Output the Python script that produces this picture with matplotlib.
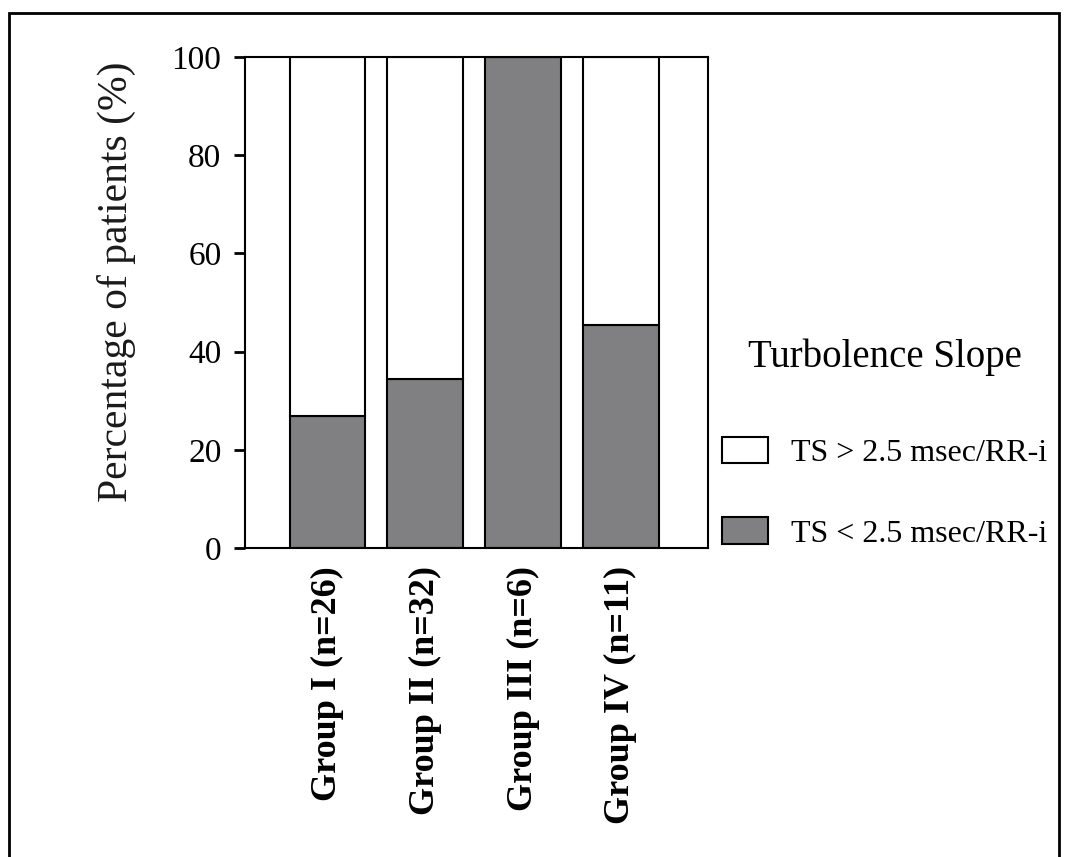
import numpy as np
import matplotlib.pyplot as plt
from matplotlib.patches import Patch, Rectangle

plt.rcParams['font.family'] = ['Liberation Serif', 'DejaVu Serif']

groups = ["Group I (n=26)", "Group II (n=32)", "Group III (n=6)", "Group IV (n=11)"]
low_ts = [26.9, 34.4, 100.0, 45.5]      # TS < 2.5 msec/RR-i, %
high_ts = [100 - v for v in low_ts]     # TS > 2.5 msec/RR-i, %

fig = plt.figure(figsize=(10.65, 8.57), dpi=100)
ax = fig.add_axes([245/1065, 1-548/857, (708-245)/1065, (548-57)/857])

x = np.arange(len(groups))
ax.bar(x, low_ts, width=0.77, color="#807f81", edgecolor="black", linewidth=1.5)
ax.bar(x, high_ts, width=0.77, bottom=low_ts, color="white", edgecolor="black", linewidth=1.5)

ax.set_xlim(-0.84, 3.89)
ax.set_ylim(0, 100)
ax.set_yticks([0, 20, 40, 60, 80, 100])
ax.tick_params(axis='y', labelsize=24, length=8, width=2, direction='out', pad=9, colors='black')
ax.set_xticks(x)
ax.set_xticklabels(groups, rotation=90, fontsize=26, fontweight='bold')
ax.tick_params(axis='x', length=0, pad=13)
for s in ax.spines.values():
    s.set_linewidth(1.5)
ax.set_ylabel("Percentage of patients (%)", fontsize=30, color="#1a1a1a")
ax.yaxis.set_label_coords(-0.235, 0.543)

handles = [Patch(facecolor="white", edgecolor="black", linewidth=1.5, label="TS > 2.5 msec/RR-i"),
           Patch(facecolor="#807f81", edgecolor="black", linewidth=1.5, label="TS < 2.5 msec/RR-i")]
leg = fig.legend(handles=handles, loc="upper left", bbox_to_anchor=(722/1065, 1-338/857),
                 frameon=False, title="Turbolence Slope", title_fontsize=28, fontsize=23,
                 handlelength=1.45, handleheight=0.9, labelspacing=1.55, handletextpad=0.7,
                 borderaxespad=0, borderpad=0)
leg._legend_box.sep = 44

# page frame around the figure
fig.patches.append(Rectangle((9/1065, -0.05), (1059-9)/1065, 1.05 - 13/857,
                             transform=fig.transFigure, fill=False, edgecolor="black",
                             linewidth=2, clip_on=False))

fig.savefig("out.png", dpi=100)
